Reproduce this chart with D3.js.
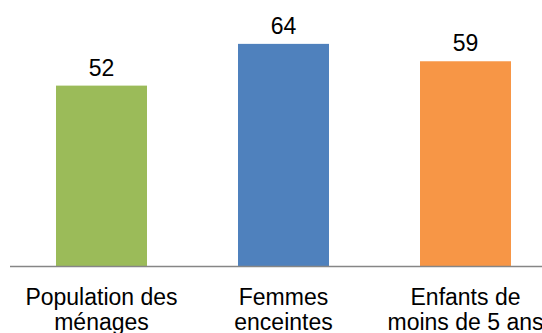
<!DOCTYPE html>
<html>
<head>
<meta charset="utf-8">
<script src="https://cdn.jsdelivr.net/npm/d3@7"></script>
<style>
  html, body { margin: 0; padding: 0; background: #fff; overflow: hidden; }
  svg { display: block; }
  text { font-family: "Liberation Sans", Arial, sans-serif; fill: #000; }
</style>
</head>
<body>
<div id="chart"></div>
<script>
// data
var categories = [["Population des", "ménages"], ["Femmes", "enceintes"], ["Enfants de", "moins de 5 ans"]];
var values = [52, 64, 59];
var colors = ["#9BBB59", "#4F81BD", "#F79646"];

var W = 542, H = 333;
var baseY = 266.5;

var svg = d3.select("#chart").append("svg")
	.attr("width", W)
	.attr("height", H);

// plot area runs past the right edge (last label is clipped in the original)
var x = d3.scaleBand()
	.domain(d3.range(values.length))
	.range([10.5, 556.5])
	.paddingInner(0.5)
	.paddingOuter(0.25);

var y = d3.scaleLinear()
	.domain([0, 70])
	.range([baseY, 23]);

// bars
svg.selectAll(".bar")
	.data(values)
	.enter().append("rect")
	.attr("class", "bar")
	.attr("x", function(d, i){ return x(i); })
	.attr("y", function(d){ return y(d); })
	.attr("width", x.bandwidth())
	.attr("height", function(d){ return baseY - y(d); })
	.attr("fill", function(d, i){ return colors[i]; });

// value labels
svg.selectAll(".val")
	.data(values)
	.enter().append("text")
	.attr("class", "val")
	.attr("x", function(d, i){ return x(i) + x.bandwidth() / 2; })
	.attr("y", function(d){ return y(d) - 10; })
	.attr("text-anchor", "middle")
	.style("font-size", "23px")
	.text(function(d){ return d; });

// axis line
svg.append("line")
	.attr("x1", 10).attr("x2", W)
	.attr("y1", baseY).attr("y2", baseY)
	.attr("stroke", "#868686")
	.attr("stroke-width", 1.6);

// category labels (two lines)
var cat = svg.selectAll(".cat")
	.data(categories)
	.enter().append("text")
	.attr("class", "cat")
	.attr("text-anchor", "middle")
	.style("font-size", "23px")
	.attr("transform", function(d, i){ return "translate(" + (x(i) + x.bandwidth() / 2) + ",0)"; });

cat.selectAll("tspan")
	.data(function(d){ return d; })
	.enter().append("tspan")
	.attr("x", 0)
	.attr("y", function(d, j){ return 305 + j * 24.5; })
	.text(function(d){ return d; });
</script>
</body>
</html>
